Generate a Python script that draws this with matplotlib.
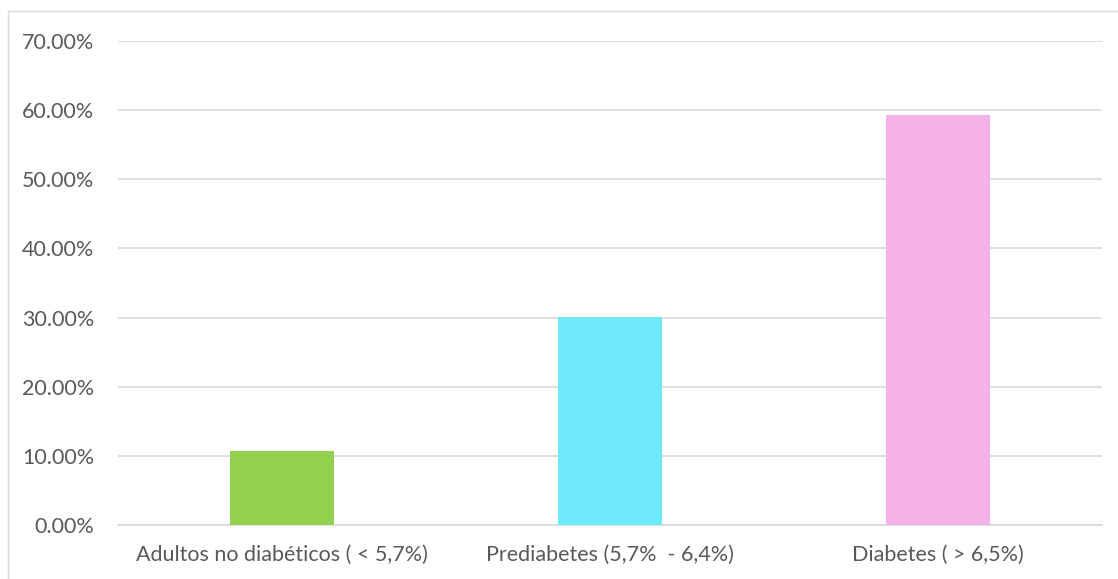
import matplotlib.pyplot as plt
from matplotlib.patches import Rectangle
from matplotlib.ticker import FuncFormatter

categorias = ['Adultos no diabéticos ( < 5,7%)', 'Prediabetes (5,7%  - 6,4%)', 'Diabetes ( > 6,5%)']
valores = [10.7, 30.05, 59.35]
colores = ['#92D050', '#6DE9F9', '#F5B2E6']
yticks = [0, 10, 20, 30, 40, 50, 60, 70]

plt.rcParams['font.family'] = ['Lato', 'DejaVu Sans']

fig = plt.figure(figsize=(11.18, 5.79), dpi=100)
# borde del área del gráfico
fig.patches.append(Rectangle((8 / 1118, -0.1), 1.2, 1.1 - 11 / 579, transform=fig.transFigure,
                             fill=False, edgecolor='#d9d9d9', linewidth=1))
ax = fig.add_axes([118 / 1118, 1 - 525 / 579, 984 / 1118, 484 / 579])

x = range(len(categorias))
ax.bar(x, valores, width=0.315, color=colores, zorder=3)

ax.set_xlim(-0.5, 2.5)
ax.set_ylim(0, 70)
ax.set_yticks(yticks)
ax.yaxis.set_major_formatter(FuncFormatter(lambda v, p: '%.2f%%' % v))
ax.set_xticks(list(x))
ax.set_xticklabels(categorias)
ax.grid(axis='y', color='#d9d9d9', linewidth=1.2, zorder=0)
for s in ['top', 'right', 'left']:
    ax.spines[s].set_visible(False)
ax.spines['bottom'].set_color('#d9d9d9')
ax.spines['bottom'].set_linewidth(1.2)
ax.tick_params(axis='both', length=0, labelsize=15.5, colors='#595959')
ax.tick_params(axis='y', pad=17)
ax.tick_params(axis='x', pad=14)

fig.savefig('out.png', dpi=100)
